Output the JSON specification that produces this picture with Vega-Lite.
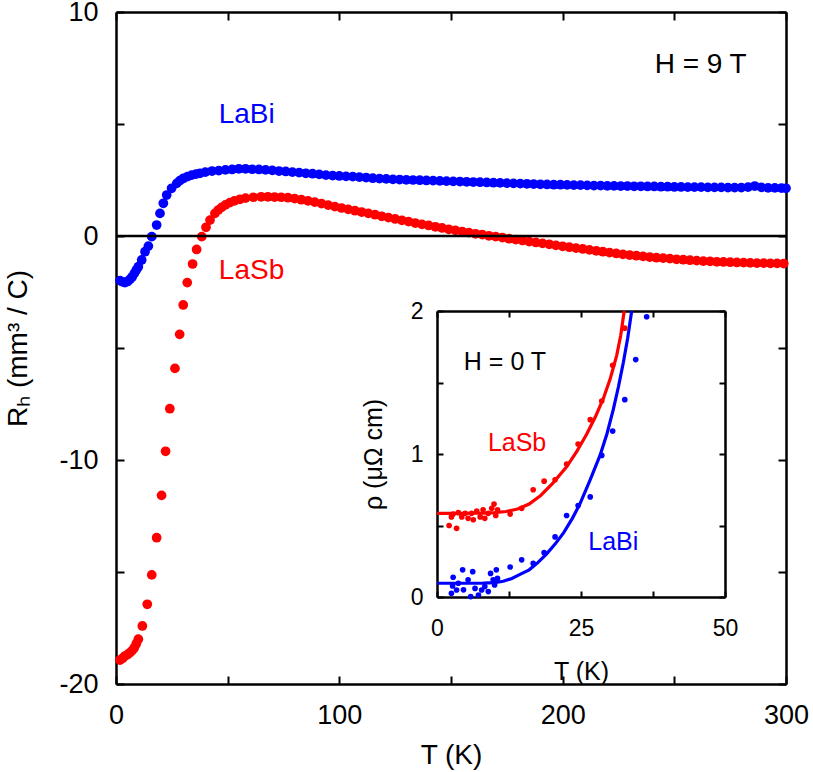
{
  "$schema": "https://vega.github.io/schema/vega-lite/v6.json",
  "width": 670,
  "height": 672,
  "autosize": {"type": "none"},
  "padding": {"left": 116, "top": 12, "right": 27, "bottom": 88},
  "background": "white",
  "config": {
    "font": "Liberation Sans",
    "view": {"stroke": null},
    "axis": {"grid": false, "domainColor": "black", "domainWidth": 2.5, "tickColor": "black", "tickWidth": 2, "labelColor": "black", "titleColor": "black", "labelFont": "Liberation Sans", "titleFont": "Liberation Sans", "titleFontWeight": "normal", "labelFlush": false, "labelOverlap": false}
  },
  "datasets": {
    "main": [
      {"T":1.8,"R":-1.99,"s":"LaBi"},{"T":3.0,"R":-2.05,"s":"LaBi"},{"T":4.0,"R":-2.08,"s":"LaBi"},{"T":5.2,"R":-2.03,"s":"LaBi"},{"T":6.3,"R":-1.93,"s":"LaBi"},{"T":7.3,"R":-1.82,"s":"LaBi"},{"T":8.2,"R":-1.67,"s":"LaBi"},{"T":9.1,"R":-1.52,"s":"LaBi"},{"T":10.0,"R":-1.37,"s":"LaBi"},{"T":11.5,"R":-1.07,"s":"LaBi"},{"T":13.0,"R":-0.7,"s":"LaBi"},{"T":14.5,"R":-0.45,"s":"LaBi"},{"T":16.0,"R":-0.03,"s":"LaBi"},{"T":18.2,"R":0.49,"s":"LaBi"},{"T":19.7,"R":1.01,"s":"LaBi"},{"T":21.2,"R":1.46,"s":"LaBi"},{"T":22.7,"R":1.83,"s":"LaBi"},{"T":24.9,"R":2.13,"s":"LaBi"},{"T":27.2,"R":2.35,"s":"LaBi"},{"T":28.6,"R":2.47,"s":"LaBi"},{"T":30.1,"R":2.57,"s":"LaBi"},{"T":32,"R":2.65,"s":"LaBi"},{"T":33.9,"R":2.72,"s":"LaBi"},{"T":35.8,"R":2.76,"s":"LaBi"},{"T":37.6,"R":2.8,"s":"LaBi"},
      {"T":40,"R":2.85,"s":"LaBi"},{"T":43,"R":2.9,"s":"LaBi"},{"T":46,"R":2.92,"s":"LaBi"},{"T":49,"R":2.95,"s":"LaBi"},{"T":52,"R":2.97,"s":"LaBi"},{"T":55,"R":3.0,"s":"LaBi"},{"T":58,"R":3.0,"s":"LaBi"},{"T":61,"R":2.98,"s":"LaBi"},{"T":64,"R":2.97,"s":"LaBi"},{"T":67,"R":2.95,"s":"LaBi"},{"T":70,"R":2.93,"s":"LaBi"},{"T":73,"R":2.9,"s":"LaBi"},{"T":76,"R":2.88,"s":"LaBi"},{"T":79,"R":2.85,"s":"LaBi"},{"T":82,"R":2.83,"s":"LaBi"},{"T":85,"R":2.8,"s":"LaBi"},{"T":88,"R":2.78,"s":"LaBi"},{"T":91,"R":2.75,"s":"LaBi"},{"T":94,"R":2.72,"s":"LaBi"},{"T":97,"R":2.7,"s":"LaBi"},{"T":100,"R":2.68,"s":"LaBi"},{"T":103,"R":2.66,"s":"LaBi"},{"T":106,"R":2.65,"s":"LaBi"},{"T":109,"R":2.63,"s":"LaBi"},{"T":112,"R":2.61,"s":"LaBi"},{"T":115,"R":2.58,"s":"LaBi"},{"T":118,"R":2.56,"s":"LaBi"},{"T":121,"R":2.55,"s":"LaBi"},{"T":124,"R":2.53,"s":"LaBi"},{"T":127,"R":2.52,"s":"LaBi"},{"T":130,"R":2.51,"s":"LaBi"},{"T":133,"R":2.5,"s":"LaBi"},{"T":136,"R":2.49,"s":"LaBi"},{"T":139,"R":2.48,"s":"LaBi"},{"T":142,"R":2.47,"s":"LaBi"},{"T":145,"R":2.46,"s":"LaBi"},{"T":148,"R":2.45,"s":"LaBi"},{"T":151,"R":2.44,"s":"LaBi"},{"T":154,"R":2.43,"s":"LaBi"},{"T":157,"R":2.42,"s":"LaBi"},{"T":160,"R":2.41,"s":"LaBi"},{"T":163,"R":2.4,"s":"LaBi"},{"T":166,"R":2.39,"s":"LaBi"},{"T":169,"R":2.38,"s":"LaBi"},{"T":172,"R":2.37,"s":"LaBi"},{"T":175,"R":2.36,"s":"LaBi"},{"T":178,"R":2.35,"s":"LaBi"},{"T":181,"R":2.34,"s":"LaBi"},{"T":184,"R":2.33,"s":"LaBi"},{"T":187,"R":2.32,"s":"LaBi"},{"T":190,"R":2.31,"s":"LaBi"},{"T":193,"R":2.3,"s":"LaBi"},{"T":196,"R":2.29,"s":"LaBi"},{"T":199,"R":2.29,"s":"LaBi"},{"T":202,"R":2.28,"s":"LaBi"},{"T":205,"R":2.27,"s":"LaBi"},{"T":208,"R":2.27,"s":"LaBi"},{"T":211,"R":2.26,"s":"LaBi"},{"T":214,"R":2.25,"s":"LaBi"},{"T":217,"R":2.25,"s":"LaBi"},{"T":220,"R":2.24,"s":"LaBi"},{"T":223,"R":2.24,"s":"LaBi"},{"T":226,"R":2.23,"s":"LaBi"},{"T":229,"R":2.23,"s":"LaBi"},{"T":232,"R":2.22,"s":"LaBi"},{"T":235,"R":2.22,"s":"LaBi"},{"T":238,"R":2.21,"s":"LaBi"},{"T":241,"R":2.21,"s":"LaBi"},{"T":244,"R":2.2,"s":"LaBi"},{"T":247,"R":2.2,"s":"LaBi"},{"T":250,"R":2.19,"s":"LaBi"},{"T":253,"R":2.19,"s":"LaBi"},{"T":256,"R":2.18,"s":"LaBi"},{"T":259,"R":2.18,"s":"LaBi"},{"T":262,"R":2.18,"s":"LaBi"},{"T":265,"R":2.17,"s":"LaBi"},{"T":268,"R":2.17,"s":"LaBi"},{"T":271,"R":2.17,"s":"LaBi"},{"T":274,"R":2.16,"s":"LaBi"},{"T":277,"R":2.16,"s":"LaBi"},{"T":280,"R":2.16,"s":"LaBi"},{"T":283,"R":2.18,"s":"LaBi"},{"T":286,"R":2.23,"s":"LaBi"},{"T":289,"R":2.17,"s":"LaBi"},{"T":292,"R":2.15,"s":"LaBi"},{"T":295,"R":2.15,"s":"LaBi"},{"T":298,"R":2.14,"s":"LaBi"},{"T":300,"R":2.13,"s":"LaBi"},
      {"T":1.8,"R":-18.93,"s":"LaSb"},{"T":3.0,"R":-18.85,"s":"LaSb"},{"T":4.0,"R":-18.75,"s":"LaSb"},{"T":5.2,"R":-18.68,"s":"LaSb"},{"T":6.3,"R":-18.6,"s":"LaSb"},{"T":7.3,"R":-18.5,"s":"LaSb"},{"T":8.2,"R":-18.38,"s":"LaSb"},{"T":9.1,"R":-18.2,"s":"LaSb"},{"T":10.0,"R":-18.0,"s":"LaSb"},{"T":11.8,"R":-17.41,"s":"LaSb"},{"T":14.0,"R":-16.44,"s":"LaSb"},{"T":16.0,"R":-15.13,"s":"LaSb"},{"T":18.2,"R":-13.47,"s":"LaSb"},{"T":20.4,"R":-11.58,"s":"LaSb"},{"T":22.2,"R":-9.61,"s":"LaSb"},{"T":24.1,"R":-7.71,"s":"LaSb"},{"T":26.4,"R":-5.91,"s":"LaSb"},{"T":28.5,"R":-4.39,"s":"LaSb"},{"T":30.1,"R":-3.08,"s":"LaSb"},{"T":31.9,"R":-2.08,"s":"LaSb"},{"T":34.3,"R":-1.25,"s":"LaSb"},{"T":36.1,"R":-0.6,"s":"LaSb"},{"T":38.4,"R":-0.03,"s":"LaSb"},{"T":40.3,"R":0.39,"s":"LaSb"},{"T":42.1,"R":0.71,"s":"LaSb"},{"T":44.3,"R":1.01,"s":"LaSb"},{"T":45.8,"R":1.16,"s":"LaSb"},{"T":47.3,"R":1.28,"s":"LaSb"},{"T":49,"R":1.39,"s":"LaSb"},{"T":51,"R":1.49,"s":"LaSb"},{"T":53,"R":1.57,"s":"LaSb"},{"T":55.5,"R":1.64,"s":"LaSb"},{"T":58,"R":1.69,"s":"LaSb"},{"T":61.5,"R":1.73,"s":"LaSb"},{"T":65,"R":1.75,"s":"LaSb"},{"T":68,"R":1.75,"s":"LaSb"},{"T":71,"R":1.74,"s":"LaSb"},{"T":74,"R":1.73,"s":"LaSb"},{"T":77,"R":1.71,"s":"LaSb"},{"T":80,"R":1.67,"s":"LaSb"},{"T":83,"R":1.62,"s":"LaSb"},{"T":86,"R":1.57,"s":"LaSb"},{"T":89,"R":1.51,"s":"LaSb"},{"T":92,"R":1.45,"s":"LaSb"},{"T":95,"R":1.38,"s":"LaSb"},{"T":98,"R":1.31,"s":"LaSb"},{"T":101,"R":1.25,"s":"LaSb"},{"T":104,"R":1.19,"s":"LaSb"},{"T":107,"R":1.13,"s":"LaSb"},{"T":110,"R":1.07,"s":"LaSb"},{"T":113,"R":1.01,"s":"LaSb"},{"T":116,"R":0.95,"s":"LaSb"},{"T":119,"R":0.88,"s":"LaSb"},{"T":122,"R":0.82,"s":"LaSb"},{"T":125,"R":0.76,"s":"LaSb"},{"T":128,"R":0.7,"s":"LaSb"},{"T":131,"R":0.64,"s":"LaSb"},{"T":134,"R":0.58,"s":"LaSb"},{"T":137,"R":0.52,"s":"LaSb"},{"T":140,"R":0.47,"s":"LaSb"},{"T":143,"R":0.41,"s":"LaSb"},{"T":146,"R":0.36,"s":"LaSb"},{"T":149,"R":0.3,"s":"LaSb"},{"T":152,"R":0.25,"s":"LaSb"},{"T":155,"R":0.2,"s":"LaSb"},{"T":158,"R":0.15,"s":"LaSb"},{"T":161,"R":0.1,"s":"LaSb"},{"T":164,"R":0.06,"s":"LaSb"},{"T":167,"R":0.01,"s":"LaSb"},{"T":170,"R":-0.03,"s":"LaSb"},{"T":173,"R":-0.07,"s":"LaSb"},{"T":176,"R":-0.12,"s":"LaSb"},{"T":179,"R":-0.16,"s":"LaSb"},{"T":182,"R":-0.2,"s":"LaSb"},{"T":185,"R":-0.25,"s":"LaSb"},{"T":188,"R":-0.29,"s":"LaSb"},{"T":191,"R":-0.33,"s":"LaSb"},{"T":194,"R":-0.37,"s":"LaSb"},{"T":197,"R":-0.42,"s":"LaSb"},{"T":200,"R":-0.46,"s":"LaSb"},{"T":203,"R":-0.5,"s":"LaSb"},{"T":206,"R":-0.54,"s":"LaSb"},{"T":209,"R":-0.58,"s":"LaSb"},{"T":212,"R":-0.62,"s":"LaSb"},{"T":215,"R":-0.66,"s":"LaSb"},{"T":218,"R":-0.7,"s":"LaSb"},{"T":221,"R":-0.74,"s":"LaSb"},{"T":224,"R":-0.78,"s":"LaSb"},{"T":227,"R":-0.82,"s":"LaSb"},{"T":230,"R":-0.85,"s":"LaSb"},{"T":233,"R":-0.88,"s":"LaSb"},{"T":236,"R":-0.91,"s":"LaSb"},{"T":239,"R":-0.94,"s":"LaSb"},{"T":242,"R":-0.97,"s":"LaSb"},{"T":245,"R":-0.99,"s":"LaSb"},{"T":248,"R":-1.01,"s":"LaSb"},{"T":251,"R":-1.04,"s":"LaSb"},{"T":254,"R":-1.06,"s":"LaSb"},{"T":257,"R":-1.08,"s":"LaSb"},{"T":260,"R":-1.1,"s":"LaSb"},{"T":263,"R":-1.12,"s":"LaSb"},{"T":266,"R":-1.13,"s":"LaSb"},{"T":269,"R":-1.15,"s":"LaSb"},{"T":272,"R":-1.16,"s":"LaSb"},{"T":275,"R":-1.17,"s":"LaSb"},{"T":278,"R":-1.18,"s":"LaSb"},{"T":281,"R":-1.19,"s":"LaSb"},{"T":284,"R":-1.2,"s":"LaSb"},{"T":287,"R":-1.21,"s":"LaSb"},{"T":290,"R":-1.21,"s":"LaSb"},{"T":293,"R":-1.22,"s":"LaSb"},{"T":296,"R":-1.22,"s":"LaSb"},{"T":299,"R":-1.23,"s":"LaSb"}
    ],
    "mainLabels": [
      {"T":58.5,"R":5.42,"text":"LaBi","s":"LaBi"},
      {"T":60.7,"R":-1.55,"text":"LaSb","s":"LaSb"}
    ],
    "fieldLabel": [
      {"T":261.8,"R":7.63,"text":"H = 9 T"}
    ],
    "insetPoints": [
      {"T":2.1,"rho":0.5,"s":"LaSb"},{"T":2.5,"rho":0.56,"s":"LaSb"},{"T":2.8,"rho":0.58,"s":"LaSb"},{"T":3.4,"rho":0.48,"s":"LaSb"},{"T":3.7,"rho":0.59,"s":"LaSb"},{"T":4.3,"rho":0.56,"s":"LaSb"},{"T":4.9,"rho":0.585,"s":"LaSb"},{"T":5.4,"rho":0.55,"s":"LaSb"},{"T":6.0,"rho":0.585,"s":"LaSb"},{"T":6.3,"rho":0.54,"s":"LaSb"},{"T":6.9,"rho":0.6,"s":"LaSb"},{"T":7.5,"rho":0.56,"s":"LaSb"},{"T":8.0,"rho":0.61,"s":"LaSb"},{"T":8.3,"rho":0.55,"s":"LaSb"},{"T":8.9,"rho":0.585,"s":"LaSb"},{"T":9.5,"rho":0.62,"s":"LaSb"},{"T":9.9,"rho":0.65,"s":"LaSb"},{"T":10.2,"rho":0.57,"s":"LaSb"},{"T":10.5,"rho":0.61,"s":"LaSb"},{"T":12.7,"rho":0.58,"s":"LaSb"},{"T":14.7,"rho":0.62,"s":"LaSb"},{"T":16.7,"rho":0.75,"s":"LaSb"},{"T":18.6,"rho":0.81,"s":"LaSb"},{"T":20.5,"rho":0.82,"s":"LaSb"},{"T":22.5,"rho":0.93,"s":"LaSb"},{"T":24.5,"rho":1.07,"s":"LaSb"},{"T":26.6,"rho":1.24,"s":"LaSb"},{"T":28.6,"rho":1.37,"s":"LaSb"},{"T":30.5,"rho":1.62,"s":"LaSb"},{"T":32.6,"rho":1.88,"s":"LaSb"},
      {"T":2.5,"rho":0.026,"s":"LaBi"},{"T":2.8,"rho":0.138,"s":"LaBi"},{"T":2.7,"rho":0.077,"s":"LaBi"},{"T":3.4,"rho":0.049,"s":"LaBi"},{"T":3.7,"rho":0.096,"s":"LaBi"},{"T":4.45,"rho":0.19,"s":"LaBi"},{"T":4.6,"rho":0.05,"s":"LaBi"},{"T":5.4,"rho":0.12,"s":"LaBi"},{"T":5.85,"rho":0.003,"s":"LaBi"},{"T":6.2,"rho":0.177,"s":"LaBi"},{"T":6.6,"rho":0.06,"s":"LaBi"},{"T":7.2,"rho":0.014,"s":"LaBi"},{"T":7.75,"rho":0.049,"s":"LaBi"},{"T":8.3,"rho":0.073,"s":"LaBi"},{"T":8.9,"rho":0.038,"s":"LaBi"},{"T":9.3,"rho":0.165,"s":"LaBi"},{"T":9.75,"rho":0.12,"s":"LaBi"},{"T":10.0,"rho":0.084,"s":"LaBi"},{"T":10.3,"rho":0.19,"s":"LaBi"},{"T":10.5,"rho":0.13,"s":"LaBi"},{"T":12.7,"rho":0.21,"s":"LaBi"},{"T":14.7,"rho":0.26,"s":"LaBi"},{"T":16.7,"rho":0.235,"s":"LaBi"},{"T":18.6,"rho":0.31,"s":"LaBi"},{"T":20.5,"rho":0.42,"s":"LaBi"},{"T":22.5,"rho":0.57,"s":"LaBi"},{"T":24.5,"rho":0.64,"s":"LaBi"},{"T":26.6,"rho":0.7,"s":"LaBi"},{"T":28.6,"rho":0.99,"s":"LaBi"},{"T":30.5,"rho":1.16,"s":"LaBi"},{"T":32.6,"rho":1.38,"s":"LaBi"},{"T":34.5,"rho":1.66,"s":"LaBi"},{"T":36.4,"rho":1.96,"s":"LaBi"}
    ],
    "insetLines": [
      {"T":0,"rho":0.585,"s":"LaSb"},{"T":8,"rho":0.586,"s":"LaSb"},{"T":10,"rho":0.59,"s":"LaSb"},{"T":12,"rho":0.598,"s":"LaSb"},{"T":14,"rho":0.615,"s":"LaSb"},{"T":16,"rho":0.65,"s":"LaSb"},{"T":18,"rho":0.71,"s":"LaSb"},{"T":20.2,"rho":0.8,"s":"LaSb"},{"T":22.5,"rho":0.91,"s":"LaSb"},{"T":24.3,"rho":1.02,"s":"LaSb"},{"T":26,"rho":1.14,"s":"LaSb"},{"T":27.5,"rho":1.26,"s":"LaSb"},{"T":28.9,"rho":1.39,"s":"LaSb"},{"T":30.1,"rho":1.53,"s":"LaSb"},{"T":31.2,"rho":1.69,"s":"LaSb"},{"T":31.9,"rho":1.83,"s":"LaSb"},{"T":32.5,"rho":2.0,"s":"LaSb"},
      {"T":0,"rho":0.096,"s":"LaBi"},{"T":8,"rho":0.097,"s":"LaBi"},{"T":10,"rho":0.1,"s":"LaBi"},{"T":11.5,"rho":0.11,"s":"LaBi"},{"T":13,"rho":0.13,"s":"LaBi"},{"T":14.5,"rho":0.16,"s":"LaBi"},{"T":16,"rho":0.19,"s":"LaBi"},{"T":17.5,"rho":0.24,"s":"LaBi"},{"T":19,"rho":0.3,"s":"LaBi"},{"T":20.5,"rho":0.37,"s":"LaBi"},{"T":22,"rho":0.45,"s":"LaBi"},{"T":23.5,"rho":0.55,"s":"LaBi"},{"T":24.8,"rho":0.65,"s":"LaBi"},{"T":26.5,"rho":0.81,"s":"LaBi"},{"T":28.3,"rho":0.99,"s":"LaBi"},{"T":29.5,"rho":1.14,"s":"LaBi"},{"T":30.6,"rho":1.31,"s":"LaBi"},{"T":31.5,"rho":1.47,"s":"LaBi"},{"T":32.35,"rho":1.64,"s":"LaBi"},{"T":33.1,"rho":1.81,"s":"LaBi"},{"T":33.8,"rho":2.0,"s":"LaBi"}
    ],
    "insetLabels": [
      {"T":13.9,"rho":1.08,"text":"LaSb","s":"LaSb"},
      {"T":30.6,"rho":0.387,"text":"LaBi","s":"LaBi"}
    ],
    "insetField": [
      {"T":11.8,"rho":1.645,"text":"H = 0 T"}
    ]
  },
  "layer": [
    {
      "layer": [
        {
          "data": {"name": "main"},
          "mark": {"type": "circle", "size": 95, "opacity": 1},
          "encoding": {
            "x": {"field": "T", "type": "quantitative", "scale": {"domain": [0, 300], "nice": false},
              "axis": {"orient": "bottom", "values": [0, 50, 100, 150, 200, 250, 300], "labelExpr": "datum.value % 100 === 0 ? '' + datum.value : ''", "tickSize": -8, "labelFontSize": 27, "labelPadding": 26, "title": "T (K)", "titleFontSize": 28, "titlePadding": 13}},
            "y": {"field": "R", "type": "quantitative", "scale": {"domain": [-20, 10], "nice": false},
              "axis": {"orient": "left", "values": [-20, -15, -10, -5, 0, 5, 10], "labelExpr": "datum.value % 10 === 0 ? '' + datum.value : ''", "tickSize": -8, "labelFontSize": 27, "labelPadding": 26, "title": "Rₕ (mm³ / C)", "titleFontSize": 28, "titlePadding": 26}},
            "color": {"field": "s", "type": "nominal", "scale": {"domain": ["LaBi", "LaSb"], "range": ["#0000ff", "#ff0000"]}, "legend": null}
          }
        },
        {
          "data": {"values": [{"R": 0}]},
          "mark": {"type": "rule", "strokeWidth": 2.5, "color": "black"},
          "encoding": {"y": {"field": "R", "type": "quantitative", "scale": {"domain": [-20, 10], "nice": false}, "axis": null}}
        },
        {
          "data": {"name": "mainLabels"},
          "mark": {"type": "text", "fontSize": 28, "font": "Liberation Sans"},
          "encoding": {
            "x": {"field": "T", "type": "quantitative", "scale": {"domain": [0, 300], "nice": false},
              "axis": {"orient": "top", "values": [0, 50, 100, 150, 200, 250, 300], "labels": false, "tickSize": -8, "title": null}},
            "y": {"field": "R", "type": "quantitative", "scale": {"domain": [-20, 10], "nice": false},
              "axis": {"orient": "right", "values": [-20, -15, -10, -5, 0, 5, 10], "labels": false, "tickSize": -8, "title": null}},
            "text": {"field": "text"},
            "color": {"field": "s", "type": "nominal", "legend": null}
          }
        },
        {
          "data": {"name": "fieldLabel"},
          "mark": {"type": "text", "fontSize": 28, "font": "Liberation Sans", "color": "black"},
          "encoding": {
            "x": {"field": "T", "type": "quantitative", "scale": {"domain": [0, 300], "nice": false}, "axis": null},
            "y": {"field": "R", "type": "quantitative", "scale": {"domain": [-20, 10], "nice": false}, "axis": null},
            "text": {"field": "text"}
          }
        }
      ],
      "resolve": {"axis": {"x": "independent", "y": "independent"}}
    },
    {
      "layer": [
        {
          "data": {"name": "insetLines"},
          "mark": {"type": "line", "strokeWidth": 3.2},
          "encoding": {
            "x": {"field": "T", "type": "quantitative", "scale": {"domain": [0, 50], "range": [321, 609], "nice": false},
              "axis": {"orient": "top", "offset": -299, "values": [0, 12.5, 25, 37.5, 50], "labels": false, "tickSize": -6, "title": null}},
            "y": {"field": "rho", "type": "quantitative", "scale": {"domain": [0, 2], "range": [585, 299], "nice": false},
              "axis": {"orient": "right", "offset": -61, "values": [0, 0.5, 1, 1.5, 2], "labels": false, "tickSize": -6, "title": null}},
            "color": {"field": "s", "type": "nominal", "legend": null},
            "order": {"field": "T", "type": "quantitative"}
          }
        },
        {
          "data": {"name": "insetPoints"},
          "mark": {"type": "circle", "size": 32, "opacity": 1},
          "encoding": {
            "x": {"field": "T", "type": "quantitative", "scale": {"domain": [0, 50], "range": [321, 609], "nice": false},
              "axis": {"orient": "bottom", "offset": -87, "values": [0, 12.5, 25, 37.5, 50], "labelExpr": "datum.value % 25 === 0 ? '' + datum.value : ''", "tickSize": -6, "labelFontSize": 23, "labelPadding": 26, "title": "T (K)", "titleFontSize": 25, "titlePadding": 19}},
            "y": {"field": "rho", "type": "quantitative", "scale": {"domain": [0, 2], "range": [585, 299], "nice": false},
              "axis": {"orient": "left", "offset": -321, "values": [0, 0.5, 1, 1.5, 2], "labelExpr": "datum.value % 1 === 0 ? '' + datum.value : ''", "tickSize": -6, "labelFontSize": 23, "labelPadding": 20, "title": "ρ (μΩ cm)", "titleFontSize": 25, "titlePadding": 24}},
            "color": {"field": "s", "type": "nominal", "legend": null}
          }
        },
        {
          "data": {"name": "insetLabels"},
          "mark": {"type": "text", "fontSize": 25, "font": "Liberation Sans"},
          "encoding": {
            "x": {"field": "T", "type": "quantitative", "scale": {"domain": [0, 50], "range": [321, 609], "nice": false}, "axis": null},
            "y": {"field": "rho", "type": "quantitative", "scale": {"domain": [0, 2], "range": [585, 299], "nice": false}, "axis": null},
            "text": {"field": "text"},
            "color": {"field": "s", "type": "nominal", "legend": null}
          }
        },
        {
          "data": {"name": "insetField"},
          "mark": {"type": "text", "fontSize": 25, "font": "Liberation Sans", "color": "black"},
          "encoding": {
            "x": {"field": "T", "type": "quantitative", "scale": {"domain": [0, 50], "range": [321, 609], "nice": false}, "axis": null},
            "y": {"field": "rho", "type": "quantitative", "scale": {"domain": [0, 2], "range": [585, 299], "nice": false}, "axis": null},
            "text": {"field": "text"}
          }
        }
      ],
      "resolve": {"axis": {"x": "independent", "y": "independent"}}
    }
  ],
  "resolve": {"scale": {"x": "independent", "y": "independent"}, "axis": {"x": "independent", "y": "independent"}}
}
